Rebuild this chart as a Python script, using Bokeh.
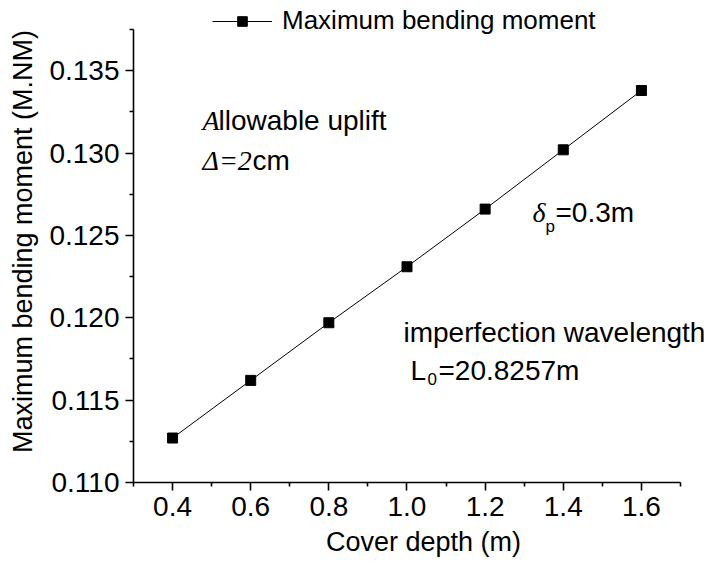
from bokeh.plotting import figure
from bokeh.models import Range1d, Label, Legend, LegendItem, FixedTicker, NumeralTickFormatter
from bokeh.embed import file_html
from bokeh.resources import INLINE

# Cover depth (m) vs maximum bending moment (M.NM)
cover_depth = [0.4, 0.6, 0.8, 1.0, 1.2, 1.4, 1.6]
max_moment = [0.1127, 0.1162, 0.1197, 0.1231, 0.1266, 0.1302, 0.1338]

x_ticks = [0.4, 0.6, 0.8, 1.0, 1.2, 1.4, 1.6]
y_ticks = [0.110, 0.115, 0.120, 0.125, 0.130, 0.135]

SANS = "Liberation Sans"
SERIF = "Liberation Serif"
TICK_FS = "28px"
TITLE_FS = "27px"
NOTE_FS = "28px"
SUB_FS = "17px"

# axis extents; the frame runs to the right and top canvas edges so that
# the notes and the legend may overhang the axes without being clipped
X0, X1 = 0.3, 1.7
Y0, Y1 = 0.110, 0.1375
PX_PER_X = 390.7
PX_PER_Y = 16470.0
W, H = 713, 574
LEFT, BOTTOM = 133, 92
x_end = X0 + (W - LEFT) / PX_PER_X
y_end = Y0 + (H - BOTTOM) / PX_PER_Y

p = figure(width=W, height=H, output_backend="svg", toolbar_location=None,
           x_range=Range1d(X0, x_end), y_range=Range1d(Y0, y_end),
           min_border_left=LEFT, min_border_right=0, min_border_top=0, min_border_bottom=BOTTOM)
p.grid.visible = False
p.outline_line_color = None
p.background_fill_color = "white"
p.border_fill_color = "white"

line = p.line(cover_depth, max_moment, line_color="black", line_width=1)
pts = p.scatter(cover_depth, max_moment, marker="square", size=10, fill_color="black", line_color="black")

for ax in (p.xaxis[0], p.yaxis[0]):
    ax.axis_line_width = 1.6
    ax.major_tick_line_width = 1.6
    ax.minor_tick_line_width = 1.6
    ax.major_tick_in = 0
    ax.major_tick_out = 8
    ax.minor_tick_in = 0
    ax.minor_tick_out = 4
    ax.major_label_text_font = SANS
    ax.major_label_text_font_size = TICK_FS
    ax.major_label_text_color = "black"
    ax.axis_label_text_font = SANS
    ax.axis_label_text_font_size = TITLE_FS
    ax.axis_label_text_font_style = "normal"
    ax.axis_label_text_color = "black"
    ax.major_label_standoff = 6

p.xaxis.bounds = (X0, X1)
p.yaxis.bounds = (Y0, Y1)
p.xaxis.ticker = FixedTicker(ticks=x_ticks, minor_ticks=[0.3, 0.5, 0.7, 0.9, 1.1, 1.3, 1.5, 1.7])
p.yaxis.ticker = FixedTicker(ticks=y_ticks, minor_ticks=[0.1125, 0.1175, 0.1225, 0.1275, 0.1325, 0.1375])
p.xaxis.formatter = NumeralTickFormatter(format="0.0")
p.yaxis.formatter = NumeralTickFormatter(format="0.000")
p.xaxis.axis_label = "Cover depth (m)"
p.yaxis.axis_label = "Maximum bending moment (M.NM)"
p.xaxis.axis_label_standoff = 8
p.yaxis.axis_label_standoff = 8

# legend above the axes
legend = Legend(items=[LegendItem(label="Maximum bending moment", renderers=[line, pts])],
                location=(79, 446), orientation="horizontal",
                label_text_font=SANS, label_text_font_size="26px", label_text_color="black",
                glyph_width=60, glyph_height=24, label_standoff=10,
                border_line_color=None, background_fill_alpha=0, padding=0, margin=0)
p.add_layout(legend, "center")


def px_x(px):
    return X0 + (px - LEFT) / PX_PER_X


def px_y(py):
    return Y0 + (H - BOTTOM - py) / PX_PER_Y


def lab(x, y, text, font=SANS, style="normal", size=NOTE_FS):
    p.add_layout(Label(x=px_x(x), y=px_y(y), text=text, text_font=font, text_font_style=style,
                       text_font_size=size, text_color="black", text_baseline="alphabetic"))


# Allowable uplift, Δ=2cm
lab(202, 120, "A", SERIF, "italic")
lab(218, 120, "llowable uplift")
lab(202, 160, "\u0394=2", SERIF, "italic")
lab(252, 160, "cm")

# δp=0.3m
lab(532, 212, "\u03b4", SERIF, "italic")
lab(545, 226, "p", size=SUB_FS)
lab(555, 212, "=0.3m")

# imperfection wavelength, L0
lab(403, 332, "imperfection wavelength")
lab(410, 370, "L")
lab(427, 378, "0", size=SUB_FS)
lab(438, 370, "=20.8257m")

open("out.html", "w").write(file_html(p, INLINE))
